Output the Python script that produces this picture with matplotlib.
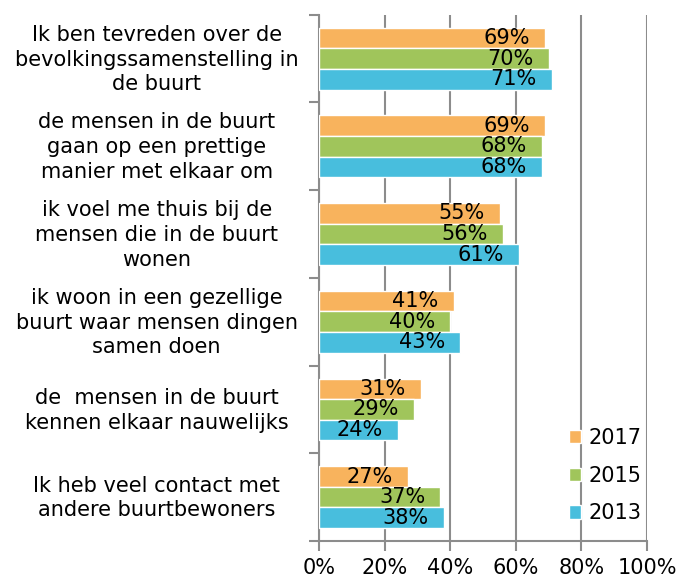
import matplotlib
matplotlib.use("Agg")
import matplotlib.pyplot as plt
import numpy as np

categories = [
    "Ik ben tevreden over de\nbevolkingssamenstelling in\nde buurt",
    "de mensen in de buurt\ngaan op een prettige\nmanier met elkaar om",
    "ik voel me thuis bij de\nmensen die in de buurt\nwonen",
    "ik woon in een gezellige\nbuurt waar mensen dingen\nsamen doen",
    "de  mensen in de buurt\nkennen elkaar nauwelijks",
    "Ik heb veel contact met\nandere buurtbewoners",
]
series_names = ["2017", "2015", "2013"]
values_2017 = [69, 69, 55, 41, 31, 27]
values_2015 = [70, 68, 56, 40, 29, 37]
values_2013 = [71, 68, 61, 43, 24, 38]
colors = ["#F8B35D", "#A0C55B", "#48BEDD"]
xticks = [0, 20, 40, 60, 80, 100]

plt.rcParams['font.family'] = ['DejaVu Sans']
FS = 15
fig = plt.figure(figsize=(6.79, 5.77), dpi=100)
ax = fig.add_axes([0.47, 0.0624, 0.483, 0.912])

y = np.arange(len(categories))
h = 0.235
offsets = [-h, 0, h]
grid_col = "#8C8C8C"
for vals, name, col, off in zip([values_2017, values_2015, values_2013], series_names, colors, offsets):
    bars = ax.barh(y + off, vals, height=h, color=col, edgecolor="white", linewidth=1, label=name, zorder=3)
    for b, v in zip(bars, vals):
        ax.annotate(f"{v}%", (v, b.get_y() + b.get_height() / 2), xytext=(-11, 0),
                    textcoords="offset points", ha="right", va="center", fontsize=FS, zorder=4)

ax.set_xlim(0, 100)
ax.set_ylim(len(categories) - 0.5, -0.5)
ax.set_xticks(xticks)
ax.set_xticklabels([f"{t}%" for t in xticks], fontsize=FS)
ax.set_yticks(y - 0.04)
ax.set_yticklabels(categories, fontsize=FS, ha="center", linespacing=1.3)
ax.set_yticks(np.arange(-0.5, len(categories)), minor=True)
ax.tick_params(axis="y", which="major", length=0, pad=117)
ax.tick_params(axis="y", which="minor", length=7, width=1.5, color=grid_col, direction="out")
ax.tick_params(axis="x", length=7, width=1.5, color=grid_col, direction="out", pad=5)

for s in ["top", "right"]:
    ax.spines[s].set_visible(False)
for s in ["left", "bottom"]:
    ax.spines[s].set_color(grid_col)
    ax.spines[s].set_linewidth(1.5)

ax.grid(axis="x", color=grid_col, linewidth=1.5, zorder=0)
ax.set_axisbelow(True)

leg = ax.legend(loc="center left", bbox_to_anchor=(0.735, 0.124), frameon=False, fontsize=FS,
                handlelength=0.6, handleheight=0.6, handletextpad=0.35, labelspacing=0.85,
                borderaxespad=0)

fig.savefig("out.png", dpi=100)
